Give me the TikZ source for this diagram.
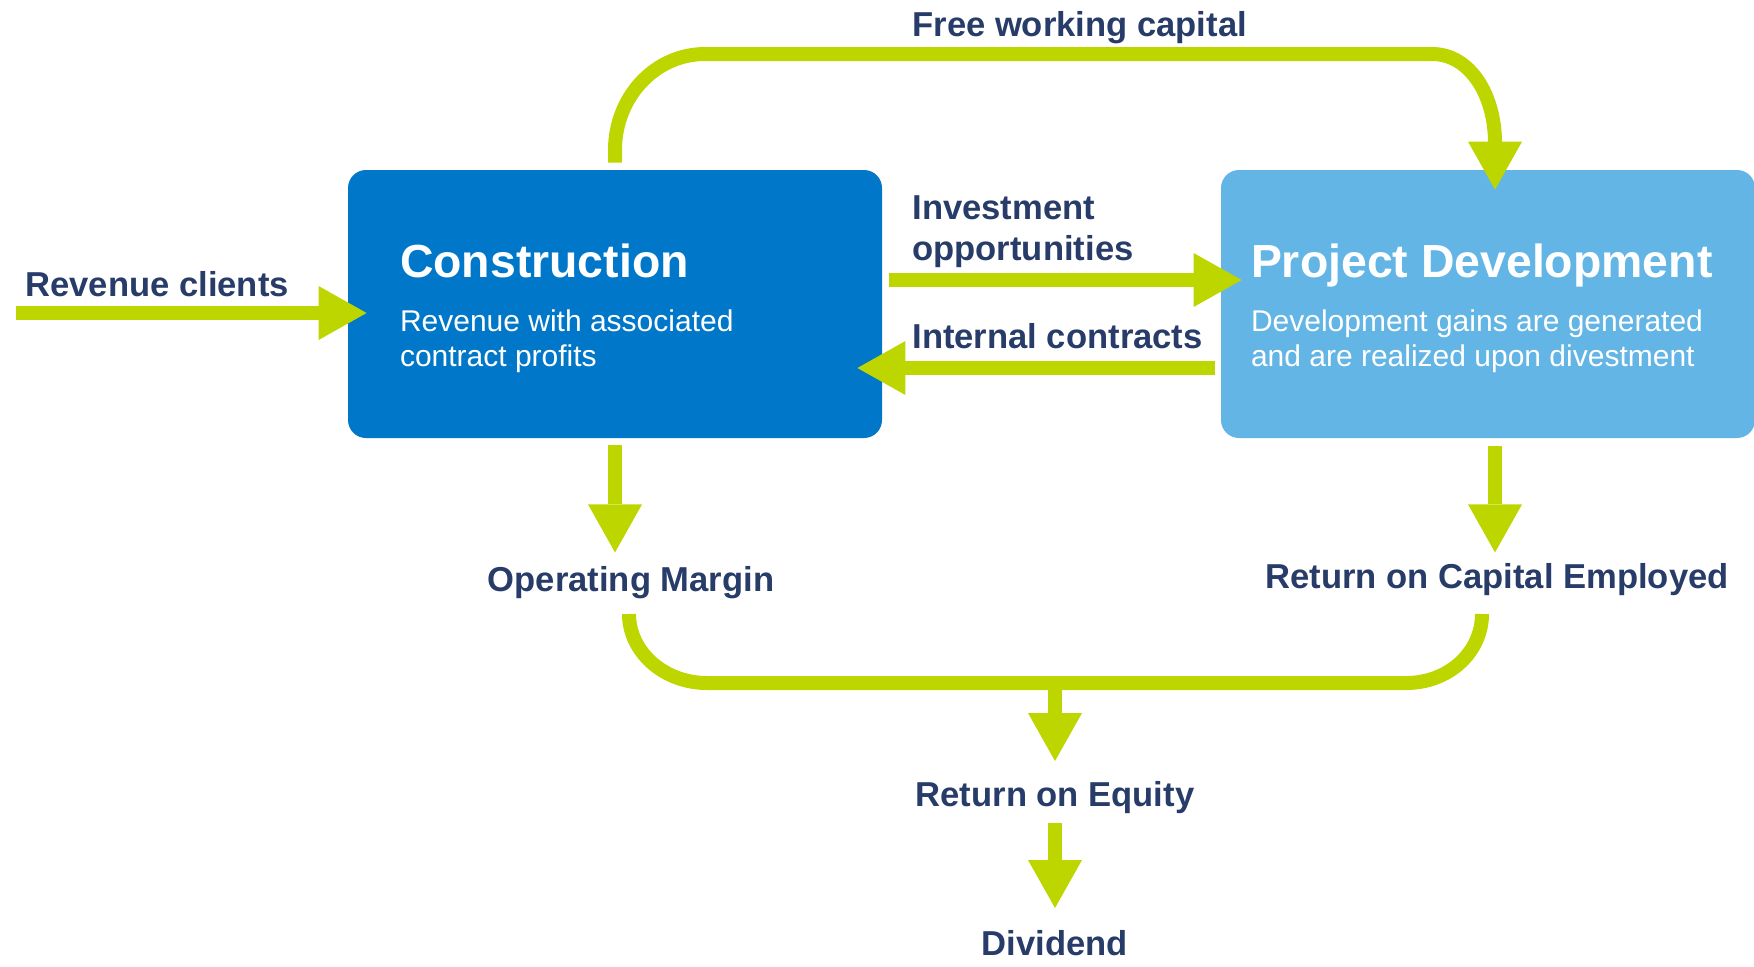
\documentclass[tikz,border=0pt]{standalone}
\usepackage{fontspec}
\setmainfont{Liberation Sans}
\usetikzlibrary{arrows.meta,calc}
\definecolor{verde}{RGB}{190,214,0}
\definecolor{azul}{RGB}{0,119,200}
\definecolor{celeste}{RGB}{99,181,229}
\definecolor{marino}{RGB}{40,60,105}
\begin{document}
\begin{tikzpicture}[x=.5pt,y=-.5pt,
  linea/.style={draw=verde,line width=7pt},
  flujo/.style={linea,-{Triangle[length=24pt,width=27pt,line width=0pt]}},
  caja/.style={rounded corners=9pt,inner sep=0pt,minimum width=267pt,minimum height=134pt},
  titulo/.style={text=white,font=\bfseries\fontsize{23.2}{27}\selectfont,anchor=base west,inner sep=0pt},
  texto/.style={text=white,font=\fontsize{15}{17.5}\selectfont,align=left,anchor=base west,inner sep=0pt},
  etiqueta/.style={text=marino,font=\bfseries\fontsize{17.3}{20.5}\selectfont,inner sep=0pt}]
\useasboundingbox (0,0) rectangle (1754,966);
% Cajas
\node[caja,fill=azul] (con) at (615,304) {};
\node[caja,fill=celeste] (pd) at (1488,304) {};
\node[titulo] (contit) at ($(con.north west)+(52,108)$) {Construction};
\node[texto] (contxt) at ($(con.north west)+(52,197)$) {Revenue with associated\\contract profits};
\node[titulo] (pdtit) at ($(pd.north west)+(30,108)$) {Project Development};
\node[texto] (pdtxt) at ($(pd.north west)+(30,197)$) {Development gains are generated\\and are realized upon divestment};
% Etiquetas
\node[etiqueta,anchor=base west] (rev) at (25,296) {Revenue clients};
\node[etiqueta,anchor=base west] (fwc) at (912,36) {Free working capital};
\node[etiqueta,anchor=base west,align=left] (inv) at (912,260) {Investment\\opportunities};
\node[etiqueta,anchor=base west] (ic) at (912,348) {Internal contracts};
\node[etiqueta,anchor=base] (om) at (631,591) {Operating Margin};
\node[etiqueta,anchor=base] (roce) at (1497,588) {Return on Capital Employed};
\node[etiqueta,anchor=base] (roe) at (1055,806) {Return on Equity};
\node[etiqueta,anchor=base] (div) at (1055,955) {Dividend};
% Flechas
\coordinate (entrada) at (16,313);
\draw[flujo] (entrada) -- ($(con.west)+(19,9)$);
\draw[flujo] ($(con.east)+(7,-24)$) -- ($(pd.west)+(21,-24)$);
\draw[flujo] ($(pd.west)+(-6,64)$) -- ($(con.east)+(-25,64)$);
\draw[flujo] ($(con.north)+(0,-7)$) -- (615,150) .. controls (615,97) and (655,54) .. (705,54)
  -- (1432,54) .. controls (1470,54) and (1495,95) .. (1495,143) -- ($(pd.north)+(7,20)$);
\draw[flujo] ($(con.south)+(0,7)$) -- ($(con.south)+(0,114)$);
\draw[flujo] ($(pd.south)+(7,8)$) -- ($(pd.south)+(7,114)$);
% Union inferior
\draw[linea] ($(om.base)+(-2,23)$) .. controls (629,652) and (664,683) .. (707,683)
  -- (1406,683) .. controls (1449,683) and (1482,652) .. ($(roce.base)+(-15,26)$);
\draw[flujo] (1055,680) -- ($(roe.base)+(0,-45)$);
\draw[flujo] ($(roe.base)+(0,17)$) -- ($(div.base)+(0,-47)$);
\end{tikzpicture}
\end{document}
